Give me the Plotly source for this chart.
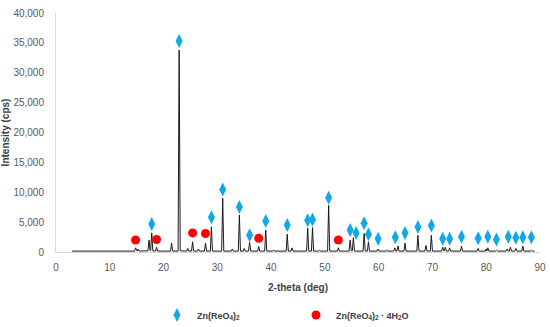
import plotly.graph_objects as go

# XRD pattern (2-theta in deg, intensity in cps)
two_theta = [3.0,
    14.6, 14.8, 15.0, 15.1, 15.3, 15.5, 17.1, 17.3, 17.5, 17.6, 17.8, 18.0,
    18.5, 18.7, 18.9, 21.3, 21.5, 21.7, 22.7, 22.9, 23.1, 24.3, 24.5, 24.7,
    25.2, 25.4, 25.6, 26.3, 26.5, 26.7, 27.6, 27.8, 28.0, 28.7, 28.9, 29.1,
    30.8, 31.0, 31.2, 32.6, 32.8, 33.0, 33.9, 34.1, 34.3, 34.8, 35.0, 35.2,
    35.8, 36.0, 36.2, 37.5, 37.7, 37.9, 38.8, 39.0, 39.2, 40.3, 40.5, 40.7,
    42.8, 43.0, 43.2, 43.7, 43.9, 44.1, 46.6, 46.8, 47.0, 47.5, 47.7, 47.9,
    48.8, 49.0, 49.2, 50.5, 50.7, 50.9, 52.3, 52.5, 52.7, 54.5, 54.7, 54.9,
    55.1, 55.3, 55.5, 57.1, 57.3, 57.5, 57.9, 58.1, 58.3, 59.7, 59.9, 60.1,
    61.3, 61.5, 61.7, 62.8, 63.0, 63.2, 63.4, 63.6, 63.8, 64.7, 64.9, 65.1,
    67.1, 67.3, 67.5, 68.6, 68.8, 69.0, 69.6, 69.8, 70.0, 71.7, 71.9, 72.1,
    72.2, 72.4, 72.6, 73.0, 73.2, 73.4, 75.2, 75.4, 75.6, 78.3, 78.5, 78.7,
    79.8, 80.0, 80.1, 80.3, 80.5, 81.7, 81.9, 82.1, 83.7, 83.9, 84.1, 84.3,
    84.5, 84.7, 85.3, 85.5, 85.7, 86.6, 86.8, 87.0, 88.2, 88.4, 88.6, 89.0]

intensity = [150,
    150, 700, 150, 150, 500, 150, 200, 2000, 250, 250, 3200, 200,
    150, 800, 150, 150, 1500, 150, 150, 33800, 200, 150, 600, 150,
    150, 1700, 150, 150, 500, 150, 150, 1500, 150, 150, 4200, 150,
    150, 9000, 150, 150, 500, 150, 150, 6200, 150, 150, 600, 150,
    150, 1600, 150, 150, 900, 150, 150, 3700, 150, 150, 300, 150,
    150, 3000, 150, 150, 700, 150, 150, 4000, 150, 150, 4100, 150,
    150, 300, 150, 150, 7800, 150, 150, 700, 150, 150, 2000, 200,
    200, 2400, 150, 150, 3100, 150, 150, 1700, 150, 150, 500, 150,
    150, 300, 150, 150, 700, 150, 150, 1000, 150, 150, 1500, 150,
    150, 2800, 150, 150, 1100, 150, 150, 2800, 150, 150, 800, 150,
    150, 800, 150, 150, 700, 150, 150, 1000, 150, 150, 600, 150,
    150, 500, 150, 700, 150, 150, 300, 150, 150, 500, 150, 150,
    800, 150, 150, 600, 150, 150, 1000, 150, 150, 300, 150, 150]

# Peak markers: Zn(ReO4)2
zn_x = [17.8, 22.9, 28.9, 31.0, 34.1, 36.0, 39.0, 43.0, 46.8, 47.7, 50.7, 54.7,
        55.8, 57.3, 58.1, 59.9, 63.1, 64.9, 67.3, 69.8, 71.9, 73.2, 75.4, 78.5,
        80.3, 81.9, 84.1, 85.5, 86.8, 88.4]
zn_y = [4700, 35300, 5800, 10450, 7550, 2800, 5200, 4500, 5300, 5450, 9100, 3700,
        3200, 4800, 2950, 2200, 2450, 3200, 4200, 4450, 2200, 2200, 2550, 2300,
        2550, 2100, 2550, 2400, 2450, 2450]

# Peak markers: Zn(ReO4)2 · 4H2O
hyd_x = [14.8, 18.7, 25.4, 27.8, 37.7, 52.5]
hyd_y = [2000, 2100, 3200, 3100, 2300, 2000]

x_ticks = [0, 10, 20, 30, 40, 50, 60, 70, 80, 90]
y_ticks = [0, 5000, 10000, 15000, 20000, 25000, 30000, 35000, 40000]

FONT = "Liberation Sans"
GRAY = "#595959"

fig = go.Figure()
fig.add_trace(go.Scatter(x=two_theta, y=intensity, mode="lines",
                         line=dict(color="#1a1a1a", width=1),
                         showlegend=False, hoverinfo="skip"))
fig.add_trace(go.Scatter(x=zn_x, y=zn_y, mode="markers",
                         name="<b>Zn(ReO<sub>4</sub>)<sub>2</sub></b>",
                         marker=dict(symbol="diamond-tall", size=10, color="#10A8E8")))
fig.add_trace(go.Scatter(x=hyd_x, y=hyd_y, mode="markers",
                         name="<b>Zn(ReO<sub>4</sub>)<sub>2</sub> · 4H<sub>2</sub>O</b>",
                         marker=dict(symbol="circle", size=9, color="#FF0000")))

fig.update_layout(
    width=550, height=327,
    margin=dict(l=56, r=10, t=13, b=75, autoexpand=False),
    paper_bgcolor="white", plot_bgcolor="white",
    font=dict(family=FONT, size=10, color=GRAY),
    showlegend=True,
    legend=dict(orientation="h", xref="container", x=0.2855, xanchor="left",
                yref="container", y=0.0367, yanchor="middle",
                font=dict(size=9, color="#404040"),
                entrywidth=94, entrywidthmode="pixels",
                bgcolor="rgba(0,0,0,0)"),
)
fig.update_xaxes(range=[0, 90], tickvals=x_ticks, showgrid=False, zeroline=False,
                 automargin=False, ticklabelstandoff=6, ticklabeloverflow="allow",
                 showline=True, linecolor="#d9d9d9", linewidth=1, ticks="",
                 title=dict(text="<b>2-theta (deg)</b>", font=dict(size=10, color="#404040"),
                            standoff=11),
                 tickfont=dict(size=10, color=GRAY))
fig.update_yaxes(range=[0, 40000], tickvals=y_ticks, tickformat=",", showgrid=False,
                 automargin=False, ticklabelstandoff=9, ticklabeloverflow="allow",
                 zeroline=False, showline=True, linecolor="#d9d9d9", linewidth=1, ticks="",
                 title=dict(text="<b>Intensity (cps)</b>", font=dict(size=10, color="#404040"),
                            standoff=4),
                 tickfont=dict(size=10, color=GRAY))

# remove the default 8 px page margin so the figure fills the window exactly
fig.write_html("out.html", config={"displayModeBar": False},
               post_script="document.body.style.margin='0';")
